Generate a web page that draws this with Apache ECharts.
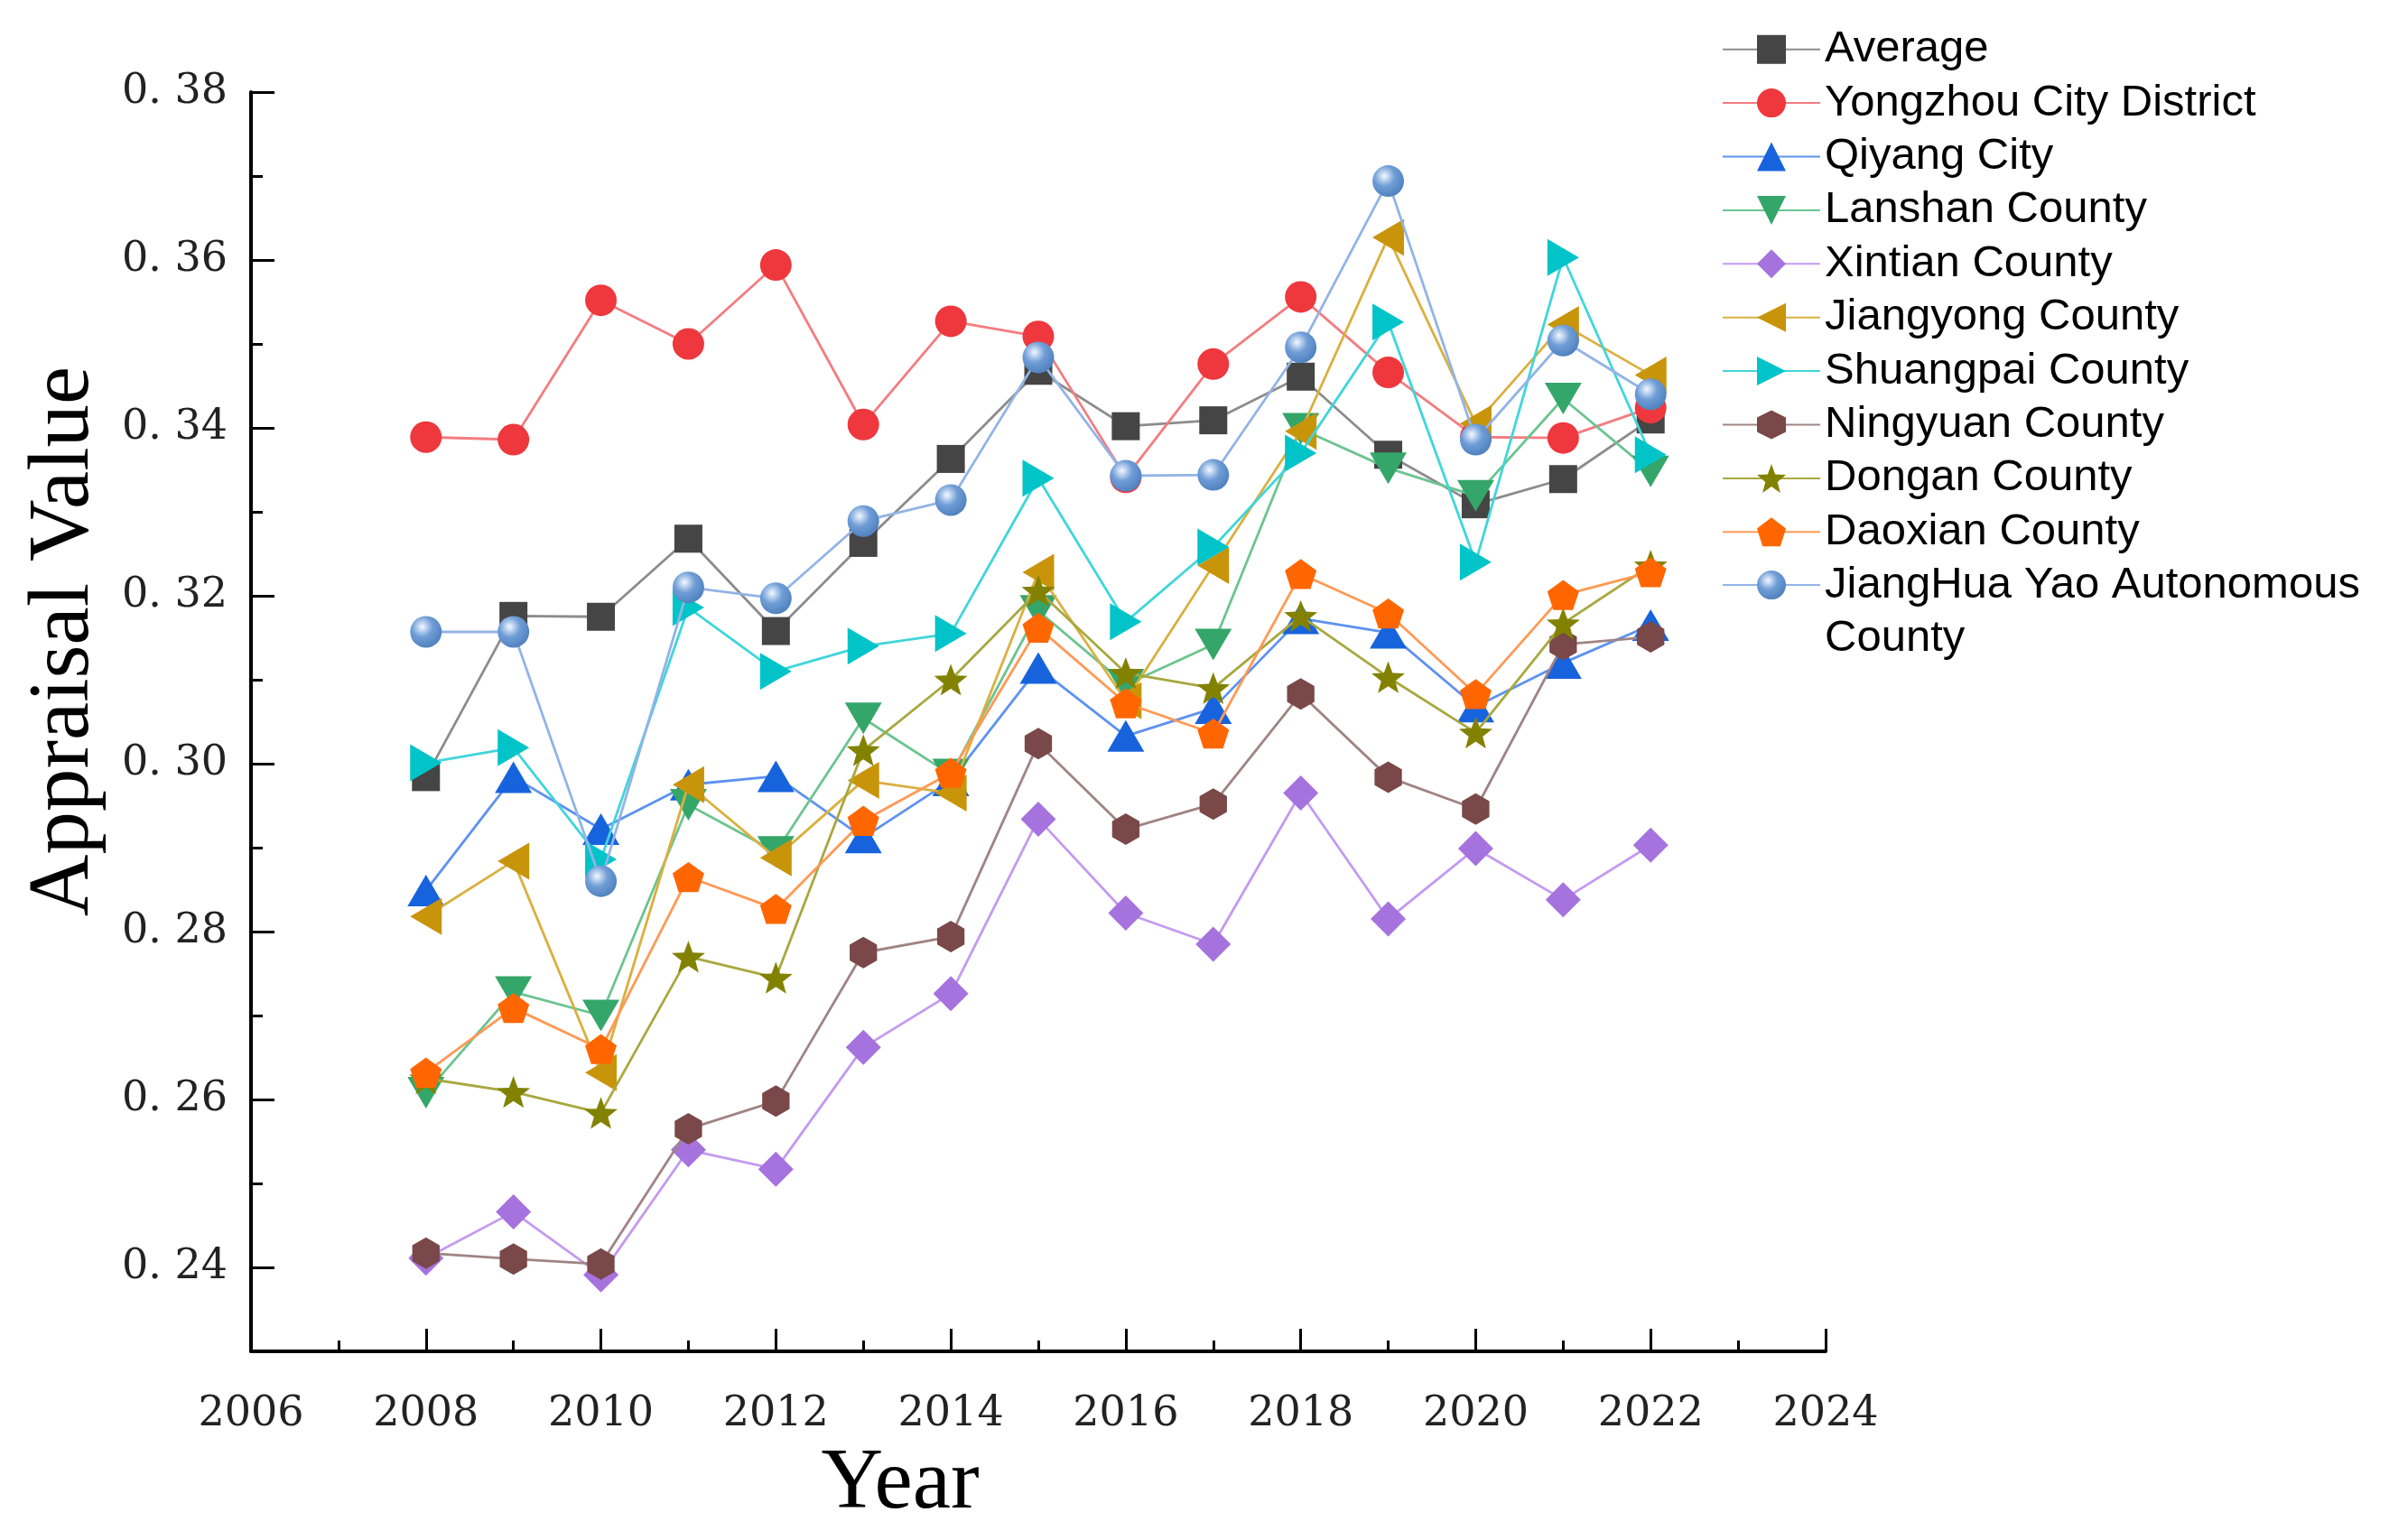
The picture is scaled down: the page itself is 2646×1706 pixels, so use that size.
<!DOCTYPE html>
<html>
<head>
<meta charset="utf-8">
<script src="https://cdn.jsdelivr.net/npm/echarts@6/dist/echarts.min.js"></script>
<style>
html,body{margin:0;padding:0;background:#ffffff;}
#chart{width:2646px;height:1706px;}
</style>
</head>
<body>
<div id="chart"></div>
<script>
// ---------------- data ----------------
const years = [2008, 2009, 2010, 2011, 2012, 2013, 2014, 2015, 2016, 2017, 2018, 2019, 2020, 2021, 2022];

const average   = [0.2984, 0.3176, 0.3175, 0.3268, 0.3158, 0.3263, 0.3363, 0.3468, 0.3402, 0.3409, 0.3461, 0.3368, 0.3309, 0.3339, 0.3410];
const yongzhou  = [0.3389, 0.3386, 0.3552, 0.3500, 0.3594, 0.3404, 0.3527, 0.3509, 0.3341, 0.3476, 0.3556, 0.3466, 0.3389, 0.3388, 0.3424];
const qiyang    = [0.2849, 0.2984, 0.2922, 0.2975, 0.2985, 0.2912, 0.2980, 0.3114, 0.3033, 0.3066, 0.3173, 0.3156, 0.3068, 0.3120, 0.3165];
const lanshan   = [0.2608, 0.2728, 0.2700, 0.2951, 0.2895, 0.3054, 0.2987, 0.3182, 0.3094, 0.3142, 0.3399, 0.3352, 0.3319, 0.3435, 0.3348];
const xintian   = [0.2411, 0.2466, 0.2391, 0.2540, 0.2517, 0.2662, 0.2726, 0.2934, 0.2822, 0.2785, 0.2965, 0.2815, 0.2899, 0.2838, 0.2903];
const jiangyong = [0.2818, 0.2884, 0.2632, 0.2975, 0.2888, 0.2980, 0.2965, 0.3228, 0.3075, 0.3236, 0.3396, 0.3627, 0.3405, 0.3523, 0.3463];
const shuangpai = [0.3001, 0.3019, 0.2886, 0.3186, 0.3110, 0.3140, 0.3155, 0.3340, 0.3169, 0.3258, 0.3370, 0.3526, 0.3240, 0.3603, 0.3368];
const ningyuan  = [0.2417, 0.2410, 0.2404, 0.2565, 0.2598, 0.2775, 0.2794, 0.3024, 0.2922, 0.2952, 0.3083, 0.2984, 0.2946, 0.3142, 0.3151];
const dongan    = [0.2625, 0.2609, 0.2584, 0.2770, 0.2745, 0.3016, 0.3100, 0.3206, 0.3108, 0.3090, 0.3176, 0.3103, 0.3037, 0.3167, 0.3236];
const daoxian   = [0.2632, 0.2709, 0.2660, 0.2865, 0.2827, 0.2932, 0.2989, 0.3162, 0.3072, 0.3036, 0.3226, 0.3179, 0.3083, 0.3201, 0.3228];
const jianghua  = [0.3157, 0.3157, 0.2860, 0.3210, 0.3197, 0.3289, 0.3314, 0.3484, 0.3343, 0.3344, 0.3496, 0.3694, 0.3386, 0.3504, 0.3440];

const seriesNames = ['Average', 'Yongzhou City District', 'Qiyang City', 'Lanshan County', 'Xintian County',
  'Jiangyong County', 'Shuangpai County', 'Ningyuan County', 'Dongan County', 'Daoxian County',
  'JiangHua Yao Autonomous County'];

const yTickValues = [0.24, 0.26, 0.28, 0.30, 0.32, 0.34, 0.36, 0.38];
const yTickLabels = ['0. 24', '0. 26', '0. 28', '0. 30', '0. 32', '0. 34', '0. 36', '0. 38'];
const xTickLabels = ['2006', '2008', '2010', '2012', '2014', '2016', '2018', '2020', '2022', '2024'];

// ---------------- styles ----------------
const HEX = 'path://M0,-1 L0.866,-0.5 L0.866,0.5 L0,1 L-0.866,0.5 L-0.866,-0.5 Z';
const STAR = 'path://M0,-1 L0.2469,-0.3398 L0.9511,-0.309 L0.3994,0.1298 L0.5878,0.809 L0,0.42 L-0.5878,0.809 L-0.3994,0.1298 L-0.9511,-0.309 L-0.2469,-0.3398 Z';
const PENT = 'path://M0,-1 L0.9511,-0.309 L0.5878,0.809 L-0.5878,0.809 L-0.9511,-0.309 Z';

const sphere = {
  type: 'radial', x: 0.38, y: 0.34, r: 0.66,
  colorStops: [
    { offset: 0, color: '#f6f9ff' },
    { offset: 0.18, color: '#c3d7f1' },
    { offset: 0.5, color: '#6f9dd6' },
    { offset: 1, color: '#5283c0' }
  ]
};

const styles = [
  { values: average,   symbol: 'rect',     size: 31,       rotate: 0,   color: '#454545', line: '#8c8c8c' },
  { values: yongzhou,  symbol: 'circle',   size: 35,       rotate: 0,   color: '#ee383d', line: '#f47c80' },
  { values: qiyang,    symbol: 'triangle', size: [41, 35], rotate: 0,   color: '#1763dd', line: '#5e92f0' },
  { values: lanshan,   symbol: 'triangle', size: [41, 35], rotate: 180, color: '#34a66a', line: '#6cc490' },
  { values: xintian,   symbol: 'diamond',  size: 39,       rotate: 0,   color: '#a672de', line: '#c49af0' },
  { values: jiangyong, symbol: 'triangle', size: [41, 35], rotate: 90,  color: '#c8940a', line: '#d9b040' },
  { values: shuangpai, symbol: 'triangle', size: [41, 35], rotate: -90, color: '#00c4c8', line: '#40d6da' },
  { values: ningyuan,  symbol: HEX,        size: 35,       rotate: 0,   color: '#7a4848', line: '#a08484' },
  { values: dongan,    symbol: STAR,       size: 37,       rotate: 0,   color: '#828200', line: '#a8a840' },
  { values: daoxian,   symbol: PENT,       size: 35,       rotate: 0,   color: '#ff6600', line: '#ff9955' },
  { values: jianghua,  symbol: 'circle',   size: 35,       rotate: 0,   color: sphere,    line: '#92b4e6' }
];

const series = styles.map((s, i) => ({
  name: seriesNames[i],
  type: 'line',
  xAxisIndex: 0,
  yAxisIndex: 0,
  data: years.map((y, k) => [y, s.values[k]]),
  symbol: s.symbol,
  symbolSize: s.size,
  symbolRotate: s.rotate,
  symbolKeepAspect: true,
  showAllSymbol: true,
  itemStyle: { color: s.color, opacity: 1 },
  lineStyle: { color: s.line, width: 2.8 },
  emphasis: { disabled: true },
  z: 2 + i
}));

const LH = 59.4;
const legendText = { fontFamily: 'Liberation Sans, Arial, sans-serif', fontSize: 49, color: '#000', lineHeight: LH };

const option = {
  backgroundColor: '#ffffff',
  animation: false,
  grid: { left: 278, right: 624, top: 102, bottom: 209, containLabel: false },
  legend: [
    {
      orient: 'vertical', left: 1907, top: 25, padding: 0,
      itemWidth: 108, itemHeight: 40, itemGap: 0,
      data: seriesNames.slice(0, 10),
      textStyle: legendText
    },
    {
      orient: 'vertical', left: 1907, top: 559, padding: 0,
      itemWidth: 108, itemHeight: 40, itemGap: 0,
      data: [seriesNames[10]],
      formatter: () => '\nJiangHua Yao Autonomous\nCounty',
      textStyle: legendText
    }
  ],
  xAxis: [
    {
      type: 'value', position: 'bottom', min: 2006, max: 2024, interval: 2,
      name: 'Year', nameLocation: 'middle', nameGap: 101,
      nameTextStyle: { fontFamily: 'Liberation Serif, Times New Roman, serif', fontSize: 95, color: '#000', padding: [0, 306, 0, 0] },
      axisLine: { show: true, lineStyle: { color: '#000', width: 4 } },
      axisTick: { show: true, inside: true, length: 25, lineStyle: { color: '#000', width: 3 } },
      axisLabel: {
        show: true, margin: 47,
        fontFamily: 'DejaVu Serif, serif', fontSize: 46, color: '#222',
        formatter: v => xTickLabels[xTickLabels.indexOf(String(Math.round(v)))] || ''
      },
      splitLine: { show: false }
    },
    {
      type: 'value', position: 'bottom', min: 2006, max: 2024, interval: 1,
      axisLine: { show: false },
      axisTick: { show: true, inside: true, length: 12, lineStyle: { color: '#000', width: 3 } },
      axisLabel: { show: false },
      splitLine: { show: false }
    }
  ],
  yAxis: [
    {
      type: 'value', position: 'left', min: 0.23, max: 0.38,
      name: 'Appraisal Value', nameLocation: 'middle', nameGap: 158, nameRotate: 90,
      nameTextStyle: { fontFamily: 'Liberation Serif, Times New Roman, serif', fontSize: 95, color: '#000', padding: [0, 0, 0, 178] },
      axisLine: { show: true, lineStyle: { color: '#000', width: 4 } },
      axisTick: { show: true, inside: true, length: 26, customValues: yTickValues, lineStyle: { color: '#000', width: 3 } },
      axisLabel: {
        show: true, margin: 26, customValues: yTickValues,
        fontFamily: 'DejaVu Serif, serif', fontSize: 46, color: '#222',
        formatter: v => {
          let best = 0;
          yTickValues.forEach((t, i) => { if (Math.abs(t - v) < Math.abs(yTickValues[best] - v)) best = i; });
          return yTickLabels[best];
        }
      },
      splitLine: { show: false }
    },
    {
      type: 'value', position: 'left', min: 0.23, max: 0.38, interval: 0.02,
      axisLine: { show: false },
      axisTick: { show: true, inside: true, length: 13, lineStyle: { color: '#000', width: 3 } },
      axisLabel: { show: false },
      splitLine: { show: false }
    }
  ],
  series: series
};

const chart = echarts.init(document.getElementById('chart'), null, { renderer: 'canvas' });
chart.setOption(option);
</script>
</body>
</html>
